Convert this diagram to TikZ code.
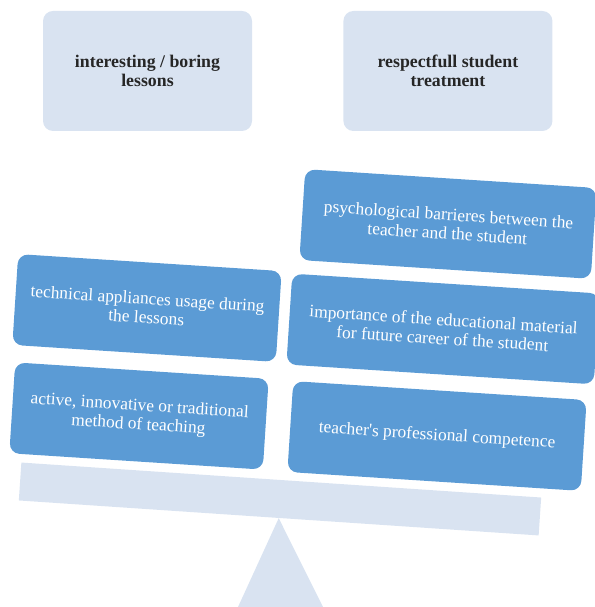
\documentclass[tikz,border=0pt]{standalone}
\usepackage{fontspec}
\setmainfont{Liberation Serif}
\usetikzlibrary{positioning}
\definecolor{paleblue}{HTML}{D9E3F1}
\definecolor{boxblue}{HTML}{5B9BD5}
\definecolor{labelgray}{HTML}{262626}

\begin{document}
\begin{tikzpicture}[x=1pt, y=1pt,
    topbox/.style={fill=paleblue, rounded corners=10pt, minimum width=209pt, minimum height=120pt,
        align=center, text=labelgray, font=\fontsize{17.8}{19}\selectfont\bfseries},
    weightbox/.style={fill=boxblue, rounded corners=10pt, minimum height=91pt, align=center,
        text=white, font=\fontsize{17.4}{19}\selectfont, rotate=-3.7}]
\useasboundingbox (0,0) rectangle (594,607);

% what hangs over the scale
\node (lessons) [topbox] at (147.5,536) {interesting / boring\\lessons};
\node (treatment) [topbox, right=91pt of lessons] {respectfull student\\treatment};

% beam and stand
\coordinate (standL) at (238,0);
\coordinate (standR) at (323,0);
\node (beam) [fill=paleblue, inner sep=0pt, minimum width=521pt, minimum height=38pt, rotate=-3.85] at (280,108) {};
\fill[paleblue] (beam.south) -- (standR) -- (standL) -- cycle;

% left pan
\node (appliances) [weightbox, minimum width=264pt] at (147,299) {technical appliances usage during\\the lessons};
\node (method) [weightbox, minimum width=254pt] at (139,191) {active, innovative or traditional\\method of teaching};

% right pan
\node (barriers) [weightbox, minimum width=292pt] at (448,383) {psychological barrieres between the\\teacher and the student};
\node (material) [weightbox, minimum width=308pt] at (443,278) {importance of the educational material\\for future career of the student};
\node (competence) [weightbox, minimum width=294pt] at (437,171) {teacher\textquotesingle s professional competence};

\end{tikzpicture}
\end{document}
